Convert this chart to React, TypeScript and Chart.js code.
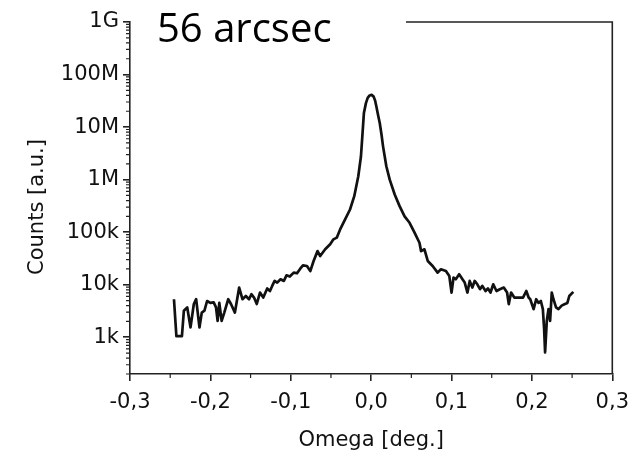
import React, { useEffect, useRef } from "react";
import { Chart, registerables } from "chart.js";

Chart.register(...registerables);

// Rocking curve: omega offset (deg) and detector counts
const omega = [
  -0.2453, -0.2423, -0.2354, -0.233, -0.2288, -0.2247, -0.2206, -0.2177, -0.2136, -0.2107,
  -0.2074, -0.2041, -0.2, -0.1959, -0.193, -0.191, -0.1889, -0.186, -0.1827, -0.1778,
  -0.1744, -0.1695, -0.1642, -0.1601, -0.1559, -0.1519, -0.149, -0.1457, -0.1423, -0.1383,
  -0.1342, -0.1293, -0.1259, -0.1231, -0.1201, -0.1169, -0.1127, -0.1086, -0.1053, -0.1012,
  -0.0963, -0.0922, -0.088, -0.0848, -0.0799, -0.0757, -0.0716, -0.0667, -0.0634, -0.0572,
  -0.051, -0.0469, -0.0428, -0.0386, -0.0324, -0.0263, -0.021, -0.016, -0.0127, -0.0107,
  -0.009, -0.0065, -0.0043, -0.0019, 0.0006, 0.0031, 0.0049, 0.0065, 0.0086, 0.0107,
  0.013, 0.0148, 0.0189, 0.0231, 0.0293, 0.0354, 0.0416, 0.0478, 0.054, 0.0601,
  0.0621, 0.0663, 0.0704, 0.0765, 0.0827, 0.0868, 0.093, 0.0972, 0.1, 0.1025,
  0.1053, 0.1095, 0.1136, 0.1164, 0.1198, 0.1226, 0.1259, 0.1288, 0.1321, 0.1354,
  0.1383, 0.1423, 0.1453, 0.1485, 0.1519, 0.1559, 0.1601, 0.165, 0.1691, 0.1712,
  0.1741, 0.1781, 0.1856, 0.1889, 0.193, 0.1959, 0.1979, 0.2021, 0.2053, 0.2083,
  0.2111, 0.2136, 0.2152, 0.2164, 0.2185, 0.2206, 0.2226, 0.2247, 0.2268, 0.23,
  0.233, 0.237, 0.2411, 0.2441, 0.2465, 0.2515,
];

const counts = [
  5300, 1050, 1050, 3190, 3700, 1540, 4300, 5300, 1540, 2950,
  3200, 4900, 4500, 4600, 3700, 2050, 4500, 2050, 2950, 5300,
  4300, 2950, 8850, 5300, 6100, 5300, 6600, 5700, 4300, 7080,
  5700, 8470, 7590, 9480, 11800, 10960, 12700, 11800, 15100, 14300,
  17000, 16500, 20400, 23400, 22700, 18200, 28300, 43600, 35200, 47200,
  58800, 73000, 78700, 113000, 175000, 270000, 484000, 1160000, 2760000, 7700000,
  18600000, 28600000, 36000000, 40000000, 41000000, 38000000, 32000000, 24700000, 17000000, 12000000,
  7000000, 4300000, 1800000, 1000000, 521000, 313000, 200000, 151000, 97700, 63000,
  43600, 47200, 28300, 22700, 17000, 19700, 18200, 14700, 7100, 13700,
  12700, 15800, 12700, 11000, 7100, 11800, 8850, 11800, 10200, 8220,
  9500, 7600, 8470, 7100, 10200, 7600, 8220, 8850, 7100, 4270,
  7100, 5700, 5700, 5700, 7600, 5700, 5300, 3430, 5300, 4500,
  4900, 3430, 1430, 515, 2050, 3430, 2050, 7100, 5300, 3700,
  3430, 4000, 4300, 4500, 6100, 7300,
];

const xTicks = [-0.3, -0.2, -0.1, 0, 0.1, 0.2, 0.3];
const xTickLabels = ["-0,3", "-0,2", "-0,1", "0,0", "0,1", "0,2", "0,3"];
const xMinorTicks = [-0.25, -0.15, -0.05, 0.05, 0.15, 0.25];
const yTicks = [1e3, 1e4, 1e5, 1e6, 1e7, 1e8, 1e9];
const yTickLabels = ["1k", "10k", "100k", "1M", "10M", "100M", "1G"];

const titleText = "56 arcsec";
const xTitle = "Omega [deg.]";
const yTitle = "Counts [a.u.]";

const Y_MIN = 200;
const Y_MAX = 1e9;
const AXIS_COLOR = "#222";
const TEXT_COLOR = "#111";
const SANS = "'DejaVu Sans', sans-serif";
const FONT_SIZE = 21;

// Frame, minor ticks, rotated y title and the panel caption
const decorations = {
  id: "decorations",
  afterDraw(chart: any) {
    const { ctx, chartArea: a, scales } = chart;
    const xs = scales.x;
    const ys = scales.y;
    ctx.save();
    ctx.strokeStyle = AXIS_COLOR;
    ctx.lineWidth = 1.6;

    // top and right frame; the caption box hides the left part of the top edge
    ctx.beginPath();
    ctx.moveTo(406, a.top);
    ctx.lineTo(a.right, a.top);
    ctx.lineTo(a.right, a.bottom);
    ctx.stroke();

    // minor ticks
    ctx.lineWidth = 1.2;
    ctx.beginPath();
    for (const v of xMinorTicks) {
      const px = xs.getPixelForValue(v);
      ctx.moveTo(px, a.bottom);
      ctx.lineTo(px, a.bottom + 4);
    }
    for (let d = 100; d < Y_MAX; d *= 10) {
      for (let m = 2; m <= 9; m++) {
        const v = m * d;
        if (v < Y_MIN || v > Y_MAX) continue;
        const py = ys.getPixelForValue(v);
        ctx.moveTo(a.left - 4, py);
        ctx.lineTo(a.left, py);
      }
    }
    ctx.stroke();

    // y axis title
    ctx.fillStyle = TEXT_COLOR;
    ctx.font = `${FONT_SIZE}px ${SANS}`;
    ctx.textAlign = "center";
    ctx.textBaseline = "alphabetic";
    ctx.translate(43, 207);
    ctx.rotate(-Math.PI / 2);
    ctx.fillText(yTitle, 0, 0);
    ctx.setTransform(1, 0, 0, 1, 0, 0);

    // caption
    ctx.font = "40px 'Open Sans', sans-serif";
    ctx.textAlign = "left";
    ctx.fillStyle = "#000";
    ctx.fillText(titleText, 157, 42);
    ctx.restore();
  },
};

export default function App() {
  const canvasRef = useRef<HTMLCanvasElement>(null);

  useEffect(() => {
    const points = omega.map((x, i) => ({ x, y: counts[i] }));
    const chart = new Chart(canvasRef.current as HTMLCanvasElement, {
      type: "line",
      data: {
        datasets: [
          {
            data: points,
            borderColor: "#111",
            borderWidth: 2.7,
            pointRadius: 0,
            tension: 0,
            borderJoinStyle: "round",
            fill: false,
          },
        ],
      },
      options: {
        responsive: false,
        devicePixelRatio: 1,
        animation: false,
        layout: { padding: { top: 22, right: 22, left: 0, bottom: 0 } },
        plugins: { legend: { display: false }, tooltip: { enabled: false } },
        scales: {
          x: {
            type: "linear",
            min: -0.3,
            max: 0.3,
            afterBuildTicks: (s: any) => {
              s.ticks = xTicks.map((value) => ({ value }));
            },
            afterFit: (s: any) => {
              s.height = 79;
            },
            ticks: {
              autoSkip: false,
              maxRotation: 0,
              padding: 9,
              color: TEXT_COLOR,
              font: { family: SANS, size: FONT_SIZE },
              callback: (v: any) => xTickLabels[xTicks.indexOf(Number(v))] ?? "",
            },
            grid: {
              drawOnChartArea: false,
              drawTicks: true,
              tickLength: 7,
              color: AXIS_COLOR,
              lineWidth: 1.6,
            },
            border: { display: true, color: AXIS_COLOR, width: 1.6 },
            title: {
              display: true,
              text: xTitle,
              color: TEXT_COLOR,
              font: { family: SANS, size: FONT_SIZE },
              padding: { top: 0, bottom: 0 },
            },
          },
          y: {
            type: "logarithmic",
            min: Y_MIN,
            max: Y_MAX,
            afterBuildTicks: (s: any) => {
              s.ticks = yTicks.map((value) => ({ value }));
            },
            afterFit: (s: any) => {
              s.width = 130;
            },
            ticks: {
              autoSkip: false,
              padding: 4,
              color: TEXT_COLOR,
              font: { family: SANS, size: FONT_SIZE },
              callback: (v: any) => yTickLabels[yTicks.indexOf(Number(v))] ?? "",
            },
            grid: {
              drawOnChartArea: false,
              drawTicks: true,
              tickLength: 7,
              color: AXIS_COLOR,
              lineWidth: 1.6,
            },
            border: { display: true, color: AXIS_COLOR, width: 1.6 },
          },
        },
      },
      plugins: [decorations],
    } as any);
    return () => chart.destroy();
  }, []);

  return (
    <div style={{ position: "fixed", left: 0, top: 0, width: 638, height: 453, background: "#fff" }}>
      <canvas ref={canvasRef} width={638} height={453} style={{ display: "block", width: 638, height: 453 }} />
    </div>
  );
}
